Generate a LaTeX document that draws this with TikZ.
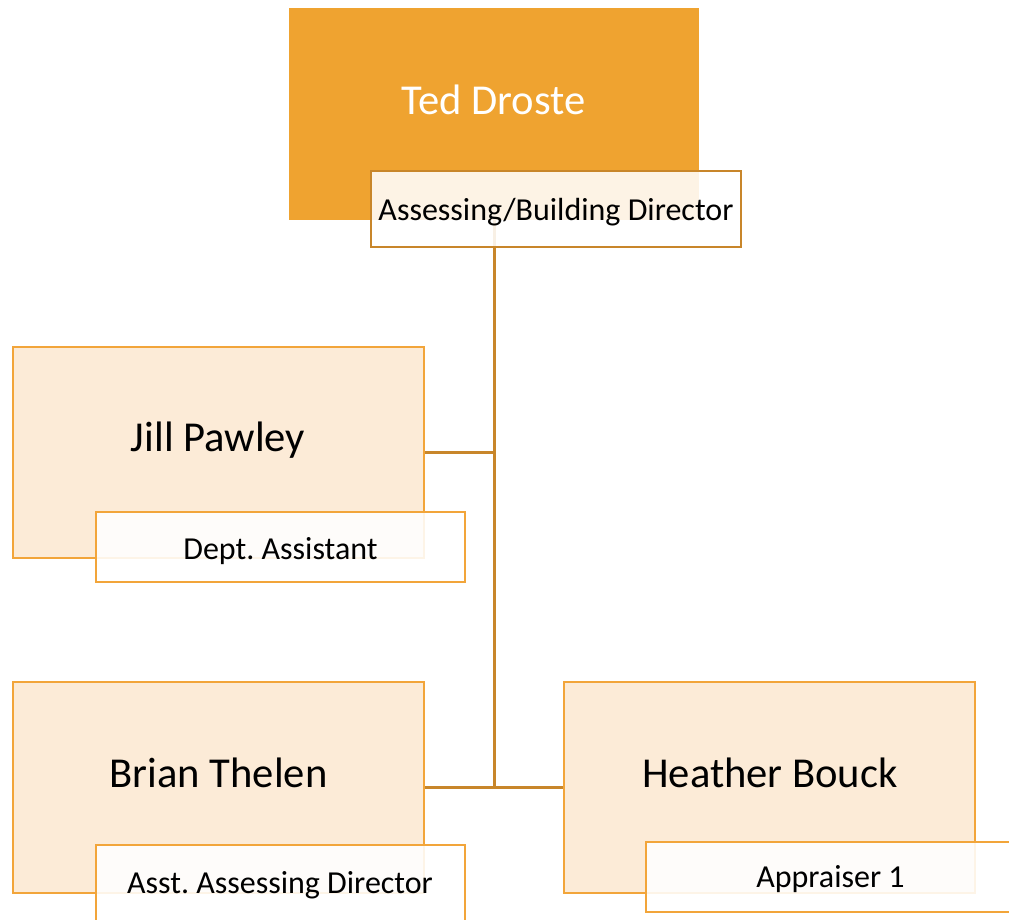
\documentclass[tikz,border=0pt]{standalone}
\usepackage{fontspec}
\setmainfont{Carlito}
\frenchspacing
\definecolor{headfill}{HTML}{EFA330}
\definecolor{boxfill}{HTML}{FCEBD7}
\definecolor{boxline}{HTML}{F2A53A}
\definecolor{darkline}{HTML}{C8862A}
\begin{document}
\begin{tikzpicture}[x=1pt,y=-1pt,
  headbox/.style={rectangle,fill=headfill,inner sep=0pt,minimum width=410pt,minimum height=212pt},
  personbox/.style={rectangle,fill=boxfill,draw=boxline,line width=2.5pt,inner sep=0pt,minimum width=411pt,minimum height=211pt},
  rolebox/.style={rectangle,fill=white,fill opacity=0.88,draw=boxline,draw opacity=1,line width=2.5pt,inner sep=0pt,minimum width=369pt,minimum height=70pt},
  headrole/.style={rolebox,draw=darkline,minimum width=370pt,minimum height=76pt},
  bigname/.style={anchor=base,inner sep=0pt,font=\fontsize{42.6}{50}\selectfont},
  headname/.style={bigname,text=white},
  roletext/.style={anchor=base,inner sep=0pt,font=\fontsize{32}{38}\selectfont},
  conn/.style={draw=darkline,line width=3pt}]
\useasboundingbox (0,0) rectangle (1009,920);
\clip (0,0) rectangle (1009,920);

% person boxes
\node[headbox] (ted) at (494,114) {};
\node[personbox] (jill) at (218.5,452.5) {};
\node[personbox] (brian) at (218.5,787.5) {};
\node[personbox] (heather) at (769.5,787.5) {};

% reporting lines
\coordinate (trunk) at (ted.south |- brian.east);
\draw[conn] (ted.south) -- (trunk);
\draw[conn] (jill.east) -- (jill.east -| ted.south);
\draw[conn] (brian.east) -- (heather.west);

% names
\node[headname] (tedname) at (493.5,115) {Ted Droste};
\node[bigname] (jillname) at (218,451) {Jill Pawley};
\node[bigname] (brianname) at (218.5,787) {Brian Thelen};
\node[bigname] (heathername) at (770,787) {Heather Bouck};

% title boxes
\node[headrole] (tedrole) at (556,209) {};
\node[rolebox] (jillrole) at (280.5,547) {};
\node[rolebox, minimum height=80pt] (brianrole) at (280.5,885) {};
\node[rolebox] (heatherrole) at (830.5,877) {};

\node[roletext] (tedtitle) at (556,220) {Assessing/Building Director};
\node[roletext] (jilltitle) at (280.5,559.5) {Dept. Assistant};
\node[roletext] (briantitle) at (280,893.5) {Asst. Assessing Director};
\node[roletext] (heathertitle) at (830.5,887) {Appraiser 1};
\end{tikzpicture}
\end{document}
